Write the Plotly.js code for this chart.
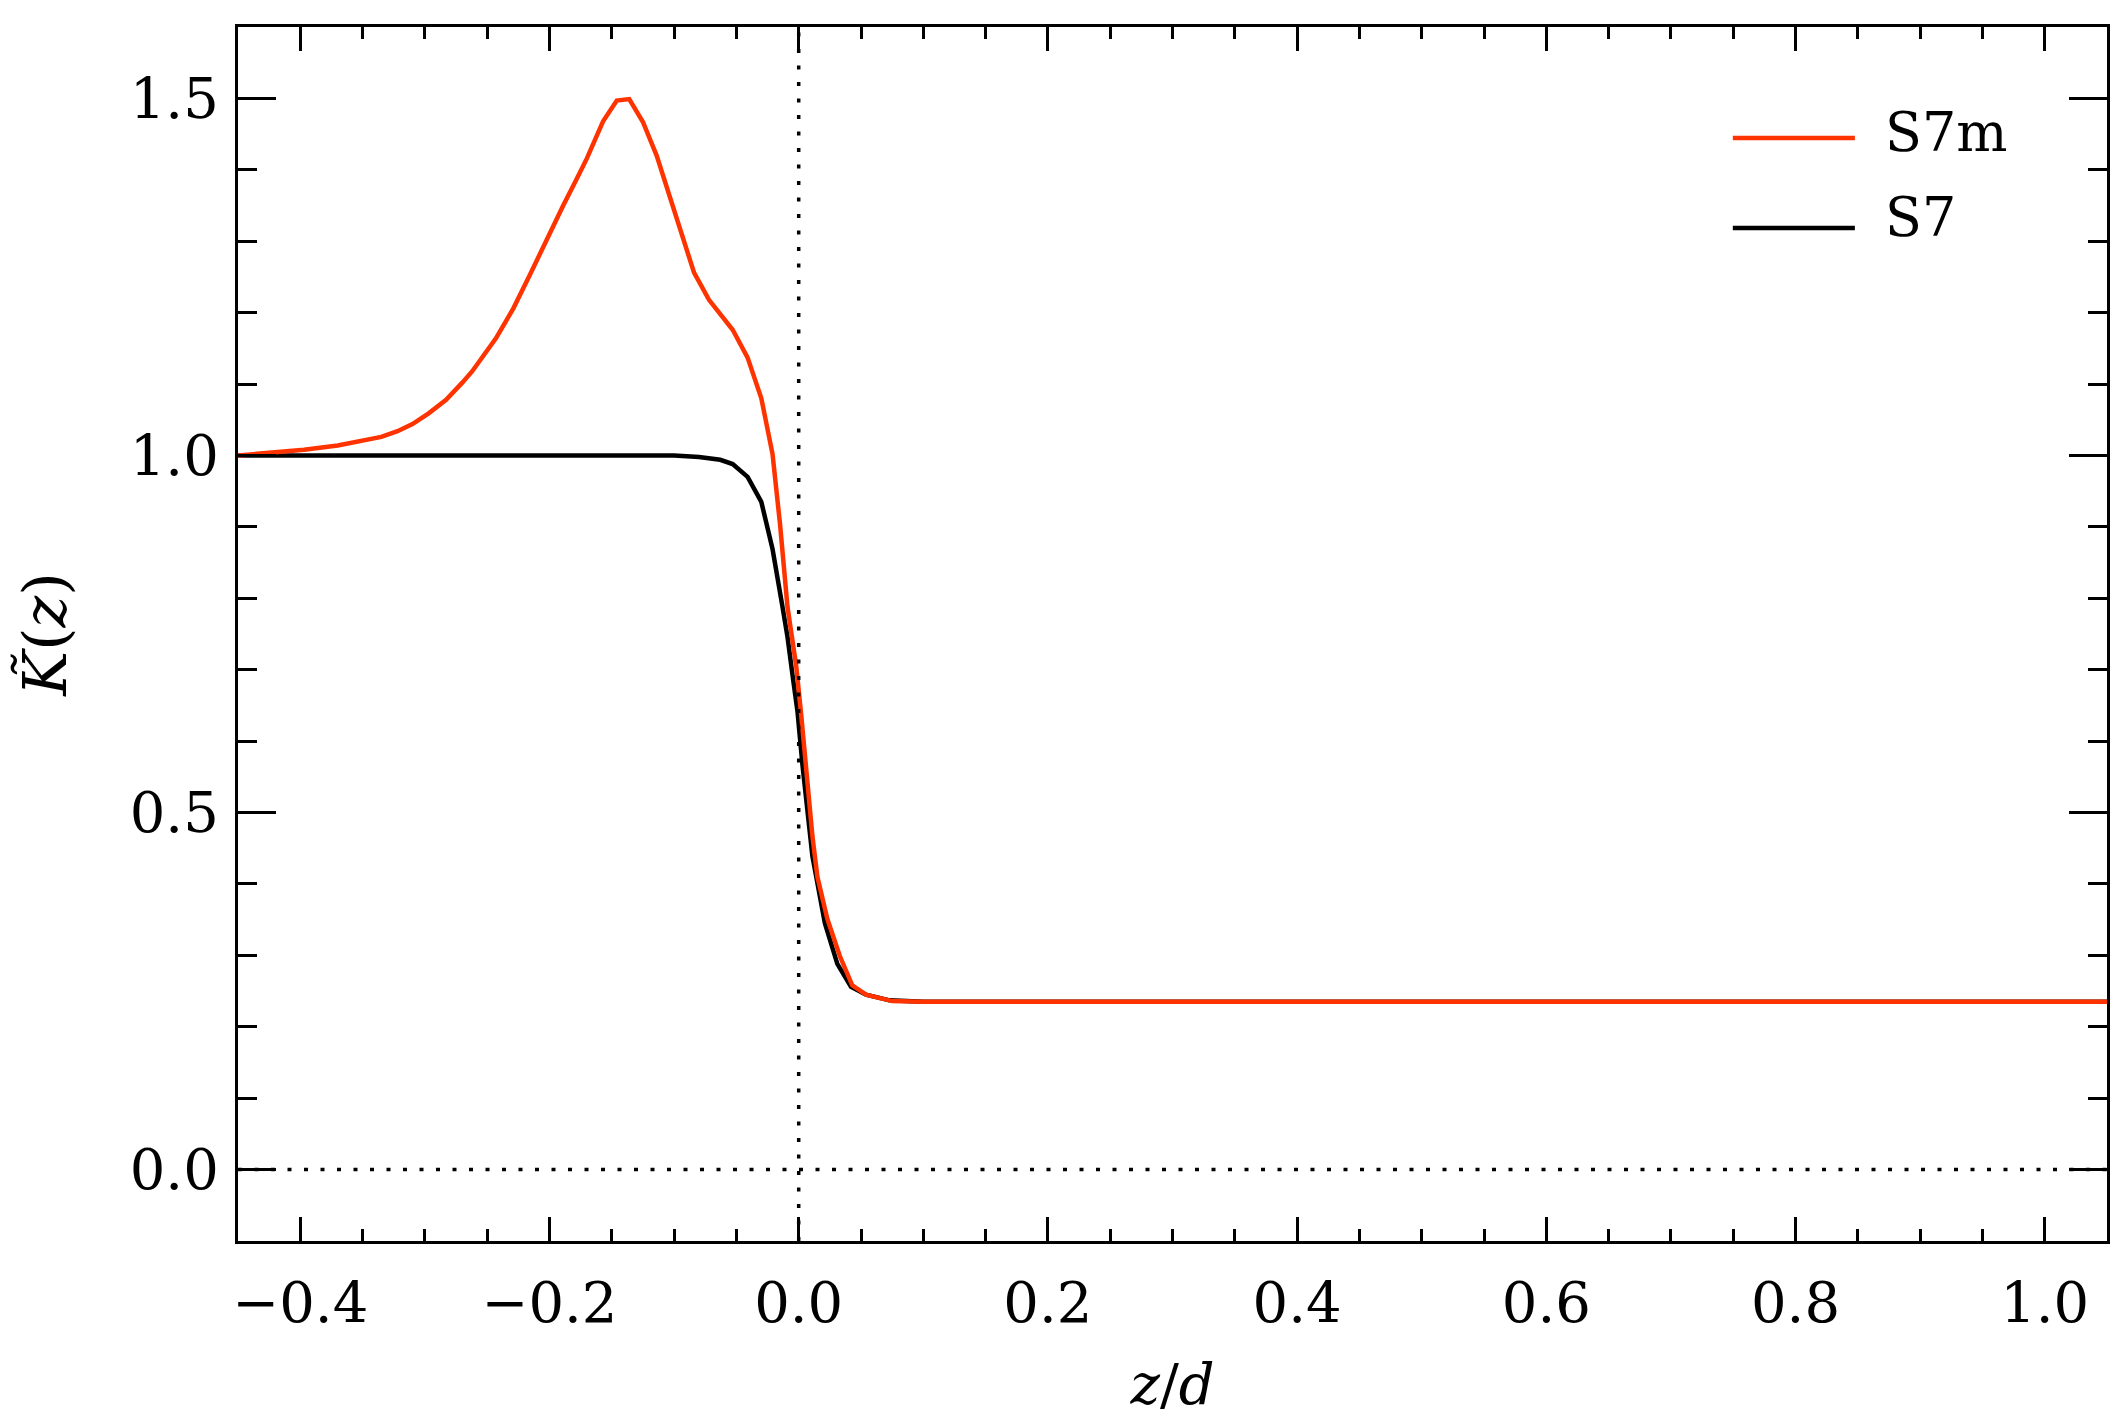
<!DOCTYPE html>
<html>
<head>
<meta charset="utf-8">
<script src="https://cdn.plot.ly/plotly-3.0.1.min.js"></script>
<style>html,body{margin:0;padding:0;background:#fff;}#plot{width:2125px;height:1417px;}</style>
</head>
<body>
<div id="plot"></div>
<script>
// S7m (red) profile
const s7mZ = [-0.45, -0.42, -0.397, -0.37, -0.35, -0.335, -0.322, -0.310, -0.297, -0.283, -0.270, -0.262, -0.243, -0.229, -0.216, -0.202, -0.189, -0.178, -0.170, -0.157, -0.146, -0.136, -0.125, -0.114, -0.104, -0.093, -0.084, -0.072, -0.053, -0.041, -0.030, -0.021, -0.015, -0.009, -0.002, 0.002, 0.006, 0.011, 0.015, 0.023, 0.033, 0.043, 0.054, 0.075, 0.10, 1.05];
const s7mK = [1.000, 1.004, 1.008, 1.014, 1.020, 1.026, 1.034, 1.044, 1.059, 1.078, 1.102, 1.118, 1.164, 1.206, 1.252, 1.304, 1.350, 1.388, 1.416, 1.468, 1.497, 1.499, 1.467, 1.420, 1.366, 1.302, 1.256, 1.218, 1.176, 1.137, 1.080, 1.002, 0.904, 0.788, 0.705, 0.637, 0.555, 0.467, 0.410, 0.351, 0.299, 0.258, 0.245, 0.236, 0.235, 0.235];
// S7 (black) profile
const s7Z = [-0.45, -0.20, -0.10, -0.080, -0.063, -0.053, -0.041, -0.030, -0.021, -0.013, -0.009, -0.005, -0.001, 0.003, 0.007, 0.011, 0.021, 0.031, 0.042, 0.054, 0.073, 0.10, 1.05];
const s7K = [1.000, 1.000, 1.000, 0.998, 0.994, 0.988, 0.970, 0.935, 0.869, 0.788, 0.746, 0.693, 0.642, 0.567, 0.502, 0.439, 0.345, 0.288, 0.256, 0.245, 0.237, 0.235, 0.235];

const seriesNames = ['S7m', 'S7'];
const seriesColors = ['#ff3300', '#000000'];
const xRange = [-0.45, 1.05];
const yRange = [-0.1, 1.6];

const FONT = 'DejaVu Serif, Liberation Serif, serif';

const traces = [
  {x: s7Z, y: s7K, type: 'scatter', mode: 'lines', name: seriesNames[1],
   line: {color: seriesColors[1], width: 4.5}, showlegend: false},
  {x: s7mZ, y: s7mK, type: 'scatter', mode: 'lines', name: seriesNames[0],
   line: {color: seriesColors[0], width: 4.5}, showlegend: false}
];

const axisCommon = {
  showgrid: false, zeroline: false, showline: true, linecolor: '#000', linewidth: 3,
  mirror: 'ticks', ticks: 'inside', tickcolor: '#000', tickwidth: 3,
  tickfont: {family: FONT, size: 56, color: '#000'}, tickformat: '.1f'
};

const layout = {
  width: 2125, height: 1417,
  margin: {l: 238, r: 18, t: 27, b: 176},
  paper_bgcolor: '#fff', plot_bgcolor: '#fff',
  showlegend: false,
  xaxis: Object.assign({}, axisCommon, {
    range: xRange, tick0: 0, dtick: 0.2, ticklen: 24, ticklabelstandoff: 11,
    minor: {dtick: 0.05, ticklen: 12, tickwidth: 3, tickcolor: '#000', ticks: 'inside'},
    title: {text: '<i>z</i>/<i>d</i>', font: {family: FONT, size: 56, color: '#000'}, standoff: 37}
  }),
  yaxis: Object.assign({}, axisCommon, {
    range: yRange, tick0: 0, dtick: 0.5, ticklen: 38, ticklabelstandoff: 5,
    minor: {dtick: 0.1, ticklen: 19, tickwidth: 3, tickcolor: '#000', ticks: 'inside'},
    title: {text: '<i>K\u0303</i>(<i>z</i>)', font: {family: FONT, size: 60, color: '#000'}, standoff: 44}
  }),
  shapes: [
    {type: 'line', xref: 'x', yref: 'paper', x0: 0, x1: 0, y0: 0, y1: 1,
     line: {color: '#000', width: 3.5, dash: '4px,12.5px'}},
    {type: 'line', xref: 'paper', yref: 'y', x0: 0, x1: 1, y0: 0, y1: 0,
     line: {color: '#000', width: 3.5, dash: '4px,12.5px'}},
    // legend samples
    {type: 'line', xref: 'paper', yref: 'paper', x0: 0.7998, x1: 0.8651, y0: 0.9086, y1: 0.9086,
     line: {color: seriesColors[0], width: 4.5}},
    {type: 'line', xref: 'paper', yref: 'paper', x0: 0.7998, x1: 0.8651, y0: 0.8344, y1: 0.8344,
     line: {color: seriesColors[1], width: 4.5}}
  ],
  annotations: [
    {xref: 'paper', yref: 'paper', x: 0.8801, y: 0.9131, xanchor: 'left', yanchor: 'middle',
     text: seriesNames[0], showarrow: false, font: {family: FONT, size: 54, color: '#000'}},
    {xref: 'paper', yref: 'paper', x: 0.8801, y: 0.8428, xanchor: 'left', yanchor: 'middle',
     text: seriesNames[1], showarrow: false, font: {family: FONT, size: 54, color: '#000'}}
  ]
};

Plotly.newPlot('plot', traces, layout, {displayModeBar: false, staticPlot: true});
</script>
</body>
</html>
